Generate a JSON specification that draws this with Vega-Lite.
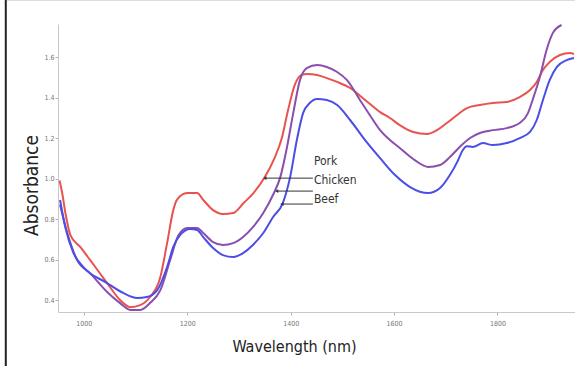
{
  "$schema": "https://vega.github.io/schema/vega-lite/v6.json",
  "autosize": {"type": "none"},
  "padding": {"left": 58, "top": 24, "right": 0, "bottom": 54},
  "width": 517,
  "height": 288,
  "background": "white",
  "config": {
    "view": {"stroke": null},
    "font": "Liberation Sans Narrow, DejaVu Sans Condensed, sans-serif"
  },
  "datasets": {
    "spectra": [
      {"meat": "Pork", "nm": 953, "absorbance": 0.99},
      {"meat": "Pork", "nm": 958, "absorbance": 0.93},
      {"meat": "Pork", "nm": 965, "absorbance": 0.82},
      {"meat": "Pork", "nm": 974, "absorbance": 0.721},
      {"meat": "Pork", "nm": 993, "absorbance": 0.662},
      {"meat": "Pork", "nm": 1012, "absorbance": 0.598},
      {"meat": "Pork", "nm": 1045, "absorbance": 0.484},
      {"meat": "Pork", "nm": 1070, "absorbance": 0.4},
      {"meat": "Pork", "nm": 1090, "absorbance": 0.365},
      {"meat": "Pork", "nm": 1109, "absorbance": 0.375},
      {"meat": "Pork", "nm": 1128, "absorbance": 0.415},
      {"meat": "Pork", "nm": 1148, "absorbance": 0.514},
      {"meat": "Pork", "nm": 1161, "absorbance": 0.681},
      {"meat": "Pork", "nm": 1173, "absorbance": 0.844},
      {"meat": "Pork", "nm": 1180, "absorbance": 0.895},
      {"meat": "Pork", "nm": 1200, "absorbance": 0.928},
      {"meat": "Pork", "nm": 1219, "absorbance": 0.928},
      {"meat": "Pork", "nm": 1231, "absorbance": 0.894},
      {"meat": "Pork", "nm": 1250, "absorbance": 0.844},
      {"meat": "Pork", "nm": 1269, "absorbance": 0.825},
      {"meat": "Pork", "nm": 1289, "absorbance": 0.83},
      {"meat": "Pork", "nm": 1309, "absorbance": 0.879},
      {"meat": "Pork", "nm": 1328, "absorbance": 0.928},
      {"meat": "Pork", "nm": 1350, "absorbance": 1.007},
      {"meat": "Pork", "nm": 1367, "absorbance": 1.091},
      {"meat": "Pork", "nm": 1383, "absorbance": 1.2},
      {"meat": "Pork", "nm": 1395, "absorbance": 1.338},
      {"meat": "Pork", "nm": 1408, "absorbance": 1.462},
      {"meat": "Pork", "nm": 1421, "absorbance": 1.511},
      {"meat": "Pork", "nm": 1432, "absorbance": 1.516},
      {"meat": "Pork", "nm": 1451, "absorbance": 1.511},
      {"meat": "Pork", "nm": 1470, "absorbance": 1.496},
      {"meat": "Pork", "nm": 1490, "absorbance": 1.477},
      {"meat": "Pork", "nm": 1515, "absorbance": 1.447},
      {"meat": "Pork", "nm": 1544, "absorbance": 1.388},
      {"meat": "Pork", "nm": 1573, "absorbance": 1.328},
      {"meat": "Pork", "nm": 1592, "absorbance": 1.299},
      {"meat": "Pork", "nm": 1611, "absorbance": 1.264},
      {"meat": "Pork", "nm": 1637, "absorbance": 1.23},
      {"meat": "Pork", "nm": 1664, "absorbance": 1.22},
      {"meat": "Pork", "nm": 1683, "absorbance": 1.239},
      {"meat": "Pork", "nm": 1702, "absorbance": 1.274},
      {"meat": "Pork", "nm": 1722, "absorbance": 1.314},
      {"meat": "Pork", "nm": 1741, "absorbance": 1.348},
      {"meat": "Pork", "nm": 1766, "absorbance": 1.363},
      {"meat": "Pork", "nm": 1791, "absorbance": 1.373},
      {"meat": "Pork", "nm": 1818, "absorbance": 1.378},
      {"meat": "Pork", "nm": 1843, "absorbance": 1.402},
      {"meat": "Pork", "nm": 1863, "absorbance": 1.437},
      {"meat": "Pork", "nm": 1876, "absorbance": 1.477},
      {"meat": "Pork", "nm": 1888, "absorbance": 1.536},
      {"meat": "Pork", "nm": 1901, "absorbance": 1.575},
      {"meat": "Pork", "nm": 1921, "absorbance": 1.61},
      {"meat": "Pork", "nm": 1940, "absorbance": 1.62},
      {"meat": "Pork", "nm": 1948, "absorbance": 1.615},

      {"meat": "Chicken", "nm": 954, "absorbance": 0.87},
      {"meat": "Chicken", "nm": 968, "absorbance": 0.731},
      {"meat": "Chicken", "nm": 987, "absorbance": 0.598},
      {"meat": "Chicken", "nm": 1012, "absorbance": 0.533},
      {"meat": "Chicken", "nm": 1045, "absorbance": 0.44},
      {"meat": "Chicken", "nm": 1070, "absorbance": 0.385},
      {"meat": "Chicken", "nm": 1090, "absorbance": 0.351},
      {"meat": "Chicken", "nm": 1109, "absorbance": 0.351},
      {"meat": "Chicken", "nm": 1128, "absorbance": 0.385},
      {"meat": "Chicken", "nm": 1148, "absorbance": 0.449},
      {"meat": "Chicken", "nm": 1167, "absorbance": 0.598},
      {"meat": "Chicken", "nm": 1183, "absorbance": 0.72},
      {"meat": "Chicken", "nm": 1200, "absorbance": 0.756},
      {"meat": "Chicken", "nm": 1219, "absorbance": 0.756},
      {"meat": "Chicken", "nm": 1231, "absorbance": 0.731},
      {"meat": "Chicken", "nm": 1250, "absorbance": 0.686},
      {"meat": "Chicken", "nm": 1269, "absorbance": 0.672},
      {"meat": "Chicken", "nm": 1289, "absorbance": 0.681},
      {"meat": "Chicken", "nm": 1308, "absorbance": 0.711},
      {"meat": "Chicken", "nm": 1327, "absorbance": 0.76},
      {"meat": "Chicken", "nm": 1347, "absorbance": 0.83},
      {"meat": "Chicken", "nm": 1366, "absorbance": 0.92},
      {"meat": "Chicken", "nm": 1380, "absorbance": 1.007},
      {"meat": "Chicken", "nm": 1393, "absorbance": 1.156},
      {"meat": "Chicken", "nm": 1405, "absorbance": 1.323},
      {"meat": "Chicken", "nm": 1418, "absorbance": 1.486},
      {"meat": "Chicken", "nm": 1432, "absorbance": 1.546},
      {"meat": "Chicken", "nm": 1451, "absorbance": 1.56},
      {"meat": "Chicken", "nm": 1470, "absorbance": 1.551},
      {"meat": "Chicken", "nm": 1490, "absorbance": 1.526},
      {"meat": "Chicken", "nm": 1509, "absorbance": 1.486},
      {"meat": "Chicken", "nm": 1534, "absorbance": 1.388},
      {"meat": "Chicken", "nm": 1553, "absorbance": 1.314},
      {"meat": "Chicken", "nm": 1573, "absorbance": 1.239},
      {"meat": "Chicken", "nm": 1592, "absorbance": 1.19},
      {"meat": "Chicken", "nm": 1611, "absorbance": 1.151},
      {"meat": "Chicken", "nm": 1640, "absorbance": 1.091},
      {"meat": "Chicken", "nm": 1666, "absorbance": 1.057},
      {"meat": "Chicken", "nm": 1689, "absorbance": 1.067},
      {"meat": "Chicken", "nm": 1708, "absorbance": 1.106},
      {"meat": "Chicken", "nm": 1727, "absorbance": 1.156},
      {"meat": "Chicken", "nm": 1747, "absorbance": 1.2},
      {"meat": "Chicken", "nm": 1766, "absorbance": 1.225},
      {"meat": "Chicken", "nm": 1791, "absorbance": 1.239},
      {"meat": "Chicken", "nm": 1818, "absorbance": 1.249},
      {"meat": "Chicken", "nm": 1843, "absorbance": 1.274},
      {"meat": "Chicken", "nm": 1859, "absorbance": 1.323},
      {"meat": "Chicken", "nm": 1868, "absorbance": 1.388},
      {"meat": "Chicken", "nm": 1882, "absorbance": 1.501},
      {"meat": "Chicken", "nm": 1895, "absorbance": 1.635},
      {"meat": "Chicken", "nm": 1907, "absorbance": 1.718},
      {"meat": "Chicken", "nm": 1924, "absorbance": 1.758},

      {"meat": "Beef", "nm": 954, "absorbance": 0.894},
      {"meat": "Beef", "nm": 964, "absorbance": 0.76},
      {"meat": "Beef", "nm": 980, "absorbance": 0.632},
      {"meat": "Beef", "nm": 999, "absorbance": 0.563},
      {"meat": "Beef", "nm": 1045, "absorbance": 0.484},
      {"meat": "Beef", "nm": 1076, "absorbance": 0.435},
      {"meat": "Beef", "nm": 1103, "absorbance": 0.41},
      {"meat": "Beef", "nm": 1122, "absorbance": 0.415},
      {"meat": "Beef", "nm": 1142, "absorbance": 0.449},
      {"meat": "Beef", "nm": 1161, "absorbance": 0.563},
      {"meat": "Beef", "nm": 1173, "absorbance": 0.662},
      {"meat": "Beef", "nm": 1186, "absorbance": 0.721},
      {"meat": "Beef", "nm": 1206, "absorbance": 0.751},
      {"meat": "Beef", "nm": 1219, "absorbance": 0.746},
      {"meat": "Beef", "nm": 1231, "absorbance": 0.711},
      {"meat": "Beef", "nm": 1250, "absorbance": 0.657},
      {"meat": "Beef", "nm": 1269, "absorbance": 0.622},
      {"meat": "Beef", "nm": 1289, "absorbance": 0.612},
      {"meat": "Beef", "nm": 1308, "absorbance": 0.632},
      {"meat": "Beef", "nm": 1327, "absorbance": 0.672},
      {"meat": "Beef", "nm": 1347, "absorbance": 0.731},
      {"meat": "Beef", "nm": 1366, "absorbance": 0.81},
      {"meat": "Beef", "nm": 1385, "absorbance": 0.88},
      {"meat": "Beef", "nm": 1399, "absorbance": 1.007},
      {"meat": "Beef", "nm": 1412, "absorbance": 1.19},
      {"meat": "Beef", "nm": 1424, "absorbance": 1.323},
      {"meat": "Beef", "nm": 1437, "absorbance": 1.373},
      {"meat": "Beef", "nm": 1451, "absorbance": 1.393},
      {"meat": "Beef", "nm": 1470, "absorbance": 1.388},
      {"meat": "Beef", "nm": 1490, "absorbance": 1.363},
      {"meat": "Beef", "nm": 1515, "absorbance": 1.289},
      {"meat": "Beef", "nm": 1544, "absorbance": 1.19},
      {"meat": "Beef", "nm": 1573, "absorbance": 1.101},
      {"meat": "Beef", "nm": 1602, "absorbance": 1.017},
      {"meat": "Beef", "nm": 1631, "absorbance": 0.958},
      {"meat": "Beef", "nm": 1666, "absorbance": 0.928},
      {"meat": "Beef", "nm": 1689, "absorbance": 0.953},
      {"meat": "Beef", "nm": 1708, "absorbance": 1.017},
      {"meat": "Beef", "nm": 1724, "absorbance": 1.091},
      {"meat": "Beef", "nm": 1733, "absorbance": 1.141},
      {"meat": "Beef", "nm": 1741, "absorbance": 1.16},
      {"meat": "Beef", "nm": 1752, "absorbance": 1.156},
      {"meat": "Beef", "nm": 1772, "absorbance": 1.175},
      {"meat": "Beef", "nm": 1791, "absorbance": 1.165},
      {"meat": "Beef", "nm": 1818, "absorbance": 1.175},
      {"meat": "Beef", "nm": 1843, "absorbance": 1.2},
      {"meat": "Beef", "nm": 1863, "absorbance": 1.23},
      {"meat": "Beef", "nm": 1876, "absorbance": 1.289},
      {"meat": "Beef", "nm": 1888, "absorbance": 1.388},
      {"meat": "Beef", "nm": 1901, "absorbance": 1.486},
      {"meat": "Beef", "nm": 1915, "absorbance": 1.551},
      {"meat": "Beef", "nm": 1934, "absorbance": 1.585},
      {"meat": "Beef", "nm": 1948, "absorbance": 1.595}
    ],
    "labels": [
      {"meat": "Pork", "nm": 1443, "absorbance": 1.086, "tip": 1350, "arrowAbs": 1.002},
      {"meat": "Chicken", "nm": 1443, "absorbance": 0.993, "tip": 1373, "arrowAbs": 0.938},
      {"meat": "Beef", "nm": 1443, "absorbance": 0.899, "tip": 1383, "arrowAbs": 0.874}
    ]
  },
  "layer": [
    {
      "data": {"values": [{}]},
      "mark": {"type": "rule", "color": "#222222", "strokeWidth": 2},
      "encoding": {
        "x": {"datum": 849},
        "y": {"datum": 0.07},
        "y2": {"datum": 1.885}
      }
    },
    {
      "data": {"values": [{}]},
      "mark": {"type": "rule", "color": "#777777", "strokeWidth": 2},
      "encoding": {
        "x": {"datum": 849},
        "x2": {"datum": 1960},
        "y": {"datum": 1.885}
      }
    },
    {
      "data": {"name": "spectra"},
      "mark": {"type": "line", "strokeWidth": 2, "interpolate": "monotone"},
      "encoding": {
        "x": {
          "field": "nm", "type": "quantitative",
          "scale": {"domain": [950, 1950], "nice": false, "zero": false},
          "axis": {
            "title": "Wavelength (nm)",
            "values": [1000, 1200, 1400, 1600, 1800],
            "format": "d",
            "grid": false,
            "domainColor": "#c8c8c8",
            "tickColor": "#b0b0b0",
            "tickSize": 3,
            "labelFontSize": 7,
            "labelColor": "#777777",
            "labelPadding": 4,
            "titleFontSize": 16,
            "titleFontWeight": "normal",
            "titleColor": "#222222",
            "titleX": 236,
            "titleY": 34,
            "titleAlign": "center",
            "titleBaseline": "middle"
          }
        },
        "y": {
          "field": "absorbance", "type": "quantitative",
          "scale": {"domain": [0.341, 1.763], "nice": false, "zero": false},
          "axis": {
            "title": "Absorbance",
            "values": [0.4, 0.6, 0.8, 1.0, 1.2, 1.4, 1.6],
            "format": ".1f",
            "grid": false,
            "domainColor": "#c8c8c8",
            "tickColor": "#b0b0b0",
            "tickSize": 3,
            "labelFontSize": 7,
            "labelColor": "#777777",
            "labelPadding": 1,
            "titleFontSize": 19,
            "titleFontWeight": "normal",
            "titleColor": "#222222",
            "titleX": -27,
            "titleY": 161,
            "titleAngle": -90,
            "titleAlign": "center",
            "titleBaseline": "middle"
          }
        },
        "color": {
          "field": "meat", "type": "nominal",
          "scale": {"domain": ["Pork", "Chicken", "Beef"], "range": ["#e8534f", "#8a4fae", "#4b4ee6"]},
          "legend": null
        },
        "detail": {"field": "meat"}
      }
    },
    {
      "data": {"name": "labels"},
      "mark": {"type": "rule", "color": "#333333", "strokeWidth": 1},
      "encoding": {
        "x": {"field": "tip", "type": "quantitative"},
        "x2": {"field": "nm"},
        "y": {"field": "arrowAbs", "type": "quantitative"}
      }
    },
    {
      "data": {"name": "labels"},
      "mark": {"type": "point", "shape": "triangle-left", "filled": true, "color": "#333333", "size": 14, "opacity": 1},
      "encoding": {
        "x": {"field": "tip", "type": "quantitative"},
        "y": {"field": "arrowAbs", "type": "quantitative"}
      }
    },
    {
      "data": {"name": "labels"},
      "mark": {"type": "text", "align": "left", "baseline": "middle", "fontSize": 12, "color": "#333333", "dx": 1},
      "encoding": {
        "x": {"field": "nm", "type": "quantitative"},
        "y": {"field": "absorbance", "type": "quantitative"},
        "text": {"field": "meat"}
      }
    }
  ]
}
